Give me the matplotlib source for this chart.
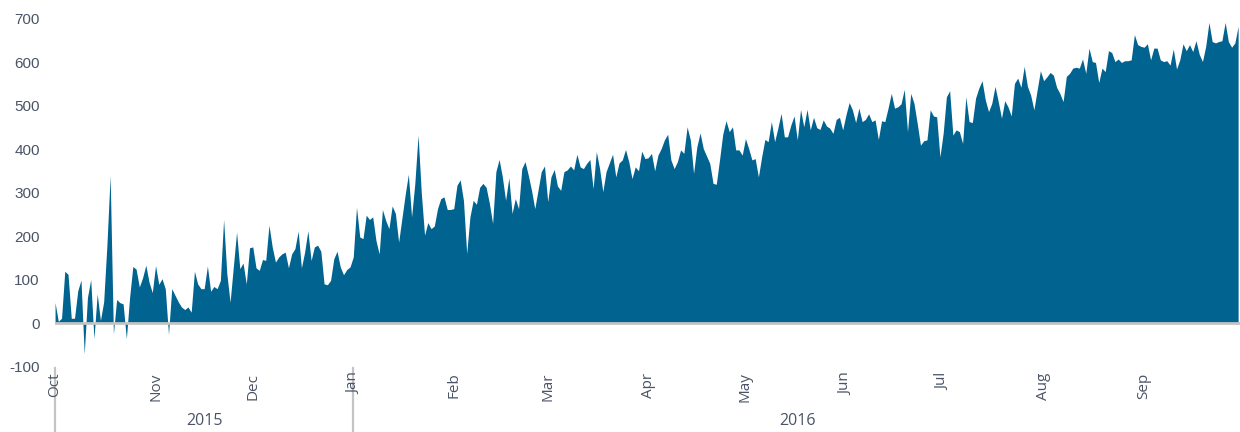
import pandas as pd
import matplotlib
matplotlib.use("Agg")
import matplotlib.pyplot as plt
import matplotlib.transforms as mtransforms

plt.rcParams["axes.unicode_minus"] = False

# daily values, one list per month (Oct 2015 .. Sep 2016)
oct_vals = [48, 5, 12, 120, 113, 12, 12, 75, 100, -70, 60, 101, -35, 68, 7, 50,
            180, 340, -24, 55, 48, 45, -35, 60, 131, 125, 84, 105, 134, 95, 71]
nov_vals = [133, 90, 103, 80, -25, 80, 65, 50, 38, 32, 38, 26, 120, 91, 80, 80,
            132, 74, 85, 80, 99, 239, 114, 49, 130, 210, 126, 139, 91, 174]
dec_vals = [176, 128, 122, 147, 145, 226, 176, 141, 153, 160, 164, 128, 160, 172,
            212, 128, 164, 213, 145, 176, 180, 166, 91, 89, 99, 149, 166, 130, 112,
            124, 130]
jan_vals = [153, 267, 199, 195, 249, 239, 245, 191, 160, 262, 237, 218, 270, 253,
            187, 241, 295, 343, 245, 322, 433, 300, 203, 232, 218, 224, 264, 287,
            291, 262, 262]
feb_vals = [264, 318, 330, 283, 161, 245, 283, 274, 313, 322, 313, 276, 230, 349,
            377, 337, 283, 335, 253, 287, 264, 356, 372, 341, 306, 264, 306, 349, 362]
mar_vals = [280, 337, 354, 316, 306, 349, 353, 362, 353, 389, 360, 356, 368, 377,
            310, 395, 356, 303, 349, 369, 389, 337, 369, 376, 400, 372, 333, 360,
            351, 396, 379]
apr_vals = [381, 391, 351, 387, 402, 422, 435, 376, 356, 372, 399, 391, 452, 422,
            345, 406, 438, 402, 385, 368, 322, 320, 376, 435, 466, 441, 452, 399,
            399, 387]
may_vals = [425, 402, 376, 379, 337, 383, 423, 418, 464, 418, 449, 483, 429, 429,
            456, 477, 422, 492, 452, 492, 445, 474, 450, 446, 468, 454, 449, 437,
            469, 474, 445]
jun_vals = [479, 508, 491, 462, 495, 464, 469, 482, 464, 468, 423, 466, 464, 495,
            529, 495, 498, 505, 538, 441, 529, 506, 460, 410, 420, 422, 491, 477,
            475, 383]
jul_vals = [437, 521, 535, 433, 445, 441, 414, 521, 464, 462, 518, 541, 558, 514,
            487, 506, 545, 510, 472, 512, 498, 477, 552, 564, 543, 591, 545, 525,
            491, 537, 581]
aug_vals = [558, 567, 577, 571, 543, 529, 510, 568, 575, 587, 589, 587, 608, 575,
            633, 602, 600, 554, 587, 579, 627, 623, 602, 608, 600, 604, 604, 606,
            664, 641, 637]
sep_vals = [635, 643, 606, 633, 633, 606, 602, 604, 594, 631, 585, 606, 643, 627,
            641, 625, 650, 619, 602, 637, 692, 648, 645, 648, 650, 692, 648, 635,
            645, 683]

values = (oct_vals + nov_vals + dec_vals + jan_vals + feb_vals + mar_vals +
          apr_vals + may_vals + jun_vals + jul_vals + aug_vals + sep_vals)
dates = pd.date_range("2015-10-01", "2016-09-30", freq="D")

month_starts = pd.date_range("2015-10-01", "2016-09-01", freq="MS")
month_labels = ["Oct", "Nov", "Dec", "Jan", "Feb", "Mar", "Apr", "May", "Jun",
                "Jul", "Aug", "Sep"]
years = ["2015", "2016"]
year_bounds = [pd.Timestamp("2015-10-01"), pd.Timestamp("2016-01-01"),
               pd.Timestamp("2016-10-01")]

fill_col = "#01638f"
text_col = "#4a5466"
grey = "#c4c4c4"

fig = plt.figure(figsize=(12.4, 4.32), dpi=100)
ax = fig.add_axes([0.0444, 0.1505, 0.9556, 0.8056])

ax.fill_between(dates, values, 0, color=fill_col, lw=0, zorder=2)
ax.axhline(0, color=grey, lw=2, zorder=3)

ax.set_ylim(-100, 700)
ax.set_yticks(range(-100, 701, 100))
ax.set_xlim(dates[0], dates[-1] + pd.Timedelta(hours=14))
ax.set_xticks(month_starts)
ax.set_xticklabels(month_labels, rotation=90, family="Open Sans", fontsize=11,
                   color=text_col)
for lab in ax.get_yticklabels():
    lab.set_family("Liberation Sans")
ax.tick_params(axis="y", length=0, pad=11, labelsize=11, labelcolor=text_col)
ax.tick_params(axis="x", length=0, pad=4)
for s in ax.spines.values():
    s.set_visible(False)

# year separators and year labels below the month labels
trans = mtransforms.blended_transform_factory(ax.transData, ax.transAxes)
for b in year_bounds[:2]:
    ax.plot([b, b], [-0.003, -0.19], transform=trans, color=grey, lw=1.6,
            clip_on=False, zorder=1)
for i, y in enumerate(years):
    mid = year_bounds[i] + (year_bounds[i + 1] - year_bounds[i]) / 2
    ax.text(mid, -0.155, y, transform=trans, ha="center", va="center",
            fontsize=11.5, family="Open Sans", color=text_col)

fig.savefig("out.png", dpi=100)
